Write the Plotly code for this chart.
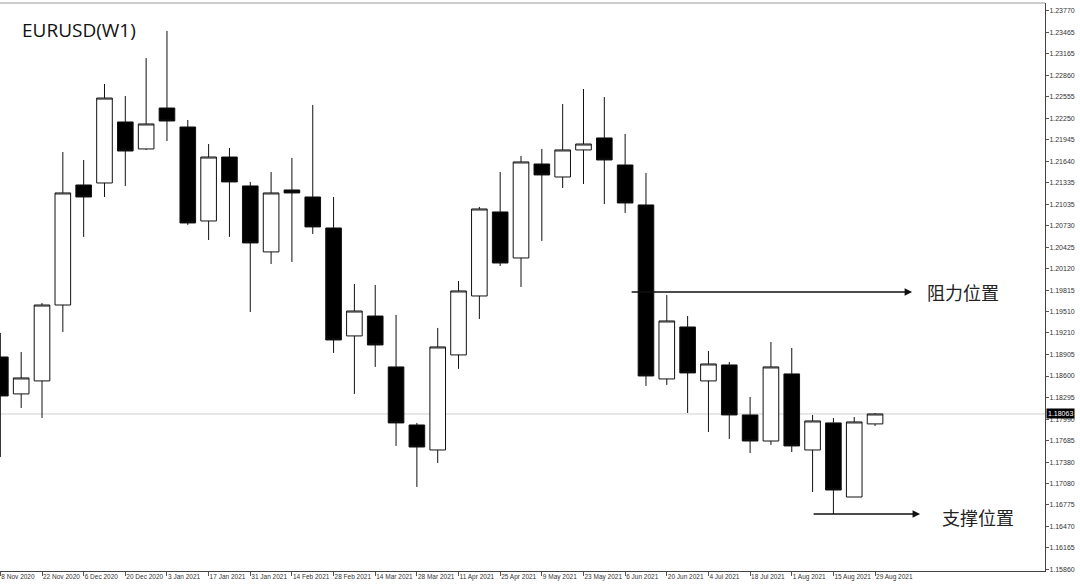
import plotly.graph_objects as go

# ---- data (EURUSD weekly) ----
tick_labels = ["8 Nov 2020", "22 Nov 2020", "6 Dec 2020", "20 Dec 2020", "3 Jan 2021",
               "17 Jan 2021", "31 Jan 2021", "14 Feb 2021", "28 Feb 2021", "14 Mar 2021",
               "28 Mar 2021", "11 Apr 2021", "25 Apr 2021", "9 May 2021", "23 May 2021",
               "6 Jun 2021", "20 Jun 2021", "4 Jul 2021", "18 Jul 2021", "1 Aug 2021",
               "15 Aug 2021", "29 Aug 2021"]

opens = [1.18870, 1.18347, 1.18531, 1.19606, 1.21306, 1.21334, 1.22198, 1.21816, 1.22396, 1.22127,
         1.20796, 1.21702, 1.21292, 1.20358, 1.21235, 1.21136, 1.20697, 1.19168, 1.19450, 1.18729,
         1.17907, 1.17553, 1.18899, 1.19734, 1.20924, 1.20272, 1.21603, 1.21419, 1.21802, 1.21972,
         1.21589, 1.21023, 1.18559, 1.19295, 1.18531, 1.18757, 1.18049, 1.17680, 1.18630, 1.17553,
         1.17936, 1.16887, 1.17922]
highs = [1.19210, 1.18941, 1.19635, 1.21773, 1.21660, 1.22736, 1.22566, 1.23104, 1.23487, 1.22226,
         1.21886, 1.21830, 1.21349, 1.21490, 1.21688, 1.22439, 1.21136, 1.19904, 1.19890, 1.19465,
         1.17936, 1.19281, 1.19946, 1.20995, 1.21490, 1.21717, 1.21816, 1.22453, 1.22665, 1.22552,
         1.22028, 1.21476, 1.19748, 1.19450, 1.18955, 1.18799, 1.18304, 1.19082, 1.18998, 1.18049,
         1.18006, 1.18020, 1.18077]
lows = [1.17454, 1.18148, 1.18006, 1.19224, 1.20570, 1.21136, 1.21292, 1.21802, 1.21929, 1.20740,
        1.20527, 1.20570, 1.19507, 1.20187, 1.20215, 1.20612, 1.18927, 1.18347, 1.18729, 1.17610,
        1.17029, 1.17369, 1.18701, 1.19408, 1.20159, 1.19861, 1.20513, 1.21263, 1.21320, 1.21037,
        1.20910, 1.18460, 1.18474, 1.18077, 1.17808, 1.17709, 1.17510, 1.17624, 1.17524, 1.16958,
        1.16646, 1.16887, 1.17893]
closes = [1.18318, 1.18573, 1.19606, 1.21193, 1.21136, 1.22537, 1.21787, 1.22170, 1.22212, 1.20768,
          1.21702, 1.21349, 1.20485, 1.21193, 1.21193, 1.20712, 1.19111, 1.19521, 1.19040, 1.17936,
          1.17595, 1.19012, 1.19805, 1.20966, 1.20201, 1.21632, 1.21448, 1.21802, 1.21886, 1.21660,
          1.21051, 1.18601, 1.19380, 1.18644, 1.18771, 1.18049, 1.17680, 1.18729, 1.17610, 1.17964,
          1.16986, 1.17950, 1.18063]

y_ticks = [1.23770, 1.23465, 1.23165, 1.22860, 1.22555, 1.22250, 1.21945, 1.21640, 1.21335,
           1.21035, 1.20730, 1.20425, 1.20120, 1.19815, 1.19510, 1.19210, 1.18905, 1.18600,
           1.18295, 1.17990, 1.17685, 1.17380, 1.17080, 1.16775, 1.16470, 1.16165, 1.15860]

resistance_level = 1.19790
support_level = 1.16647

title_text = "EURUSD(W1)"
resistance_text = "阻力位置"
support_text = "支撑位置"

# ---- figure ----
x = list(range(len(opens)))

fig = go.Figure()
fig.add_trace(go.Candlestick(
    x=x, open=opens, high=highs, low=lows, close=closes,
    increasing=dict(fillcolor="white", line=dict(color="#111111", width=1)),
    decreasing=dict(fillcolor="black", line=dict(color="#111111", width=1)),
    whiskerwidth=0, hoverinfo="skip", showlegend=False,
))

last = closes[-1]

fig.update_layout(
    width=1080, height=585,
    margin=dict(l=0, r=35, t=3, b=14, autoexpand=False),
    paper_bgcolor="white", plot_bgcolor="white",
    boxgap=0.25, boxgroupgap=0,
    showlegend=False,
    xaxis=dict(
        range=[-0.017, 50.16],
        tickmode="array",
        tickvals=x[::2],
        ticktext=tick_labels,
        tickangle=0,
        ticklabelposition="outside right",
        ticks="outside", ticklen=4, tickcolor="#555555",
        ticklabelstandoff=-1,
        showline=True, linecolor="#444444", linewidth=1,
        showgrid=False, zeroline=False, automargin=False,
        rangeslider=dict(visible=False),
        tickfont=dict(family="Liberation Sans", size=6.5, color="#333333"),
        fixedrange=True,
    ),
    yaxis=dict(
        side="right",
        range=[1.15839, 1.23883],
        tickmode="array",
        tickvals=y_ticks,
        ticktext=[f"{v:.5f}" for v in y_ticks],
        ticks="outside", ticklen=3, tickcolor="#555555",
        ticklabelstandoff=-1,
        showline=True, linecolor="#444444", linewidth=1,
        showgrid=False, zeroline=False, automargin=False,
        tickfont=dict(family="Liberation Sans", size=7, color="#333333"),
        fixedrange=True,
    ),
    shapes=[
        dict(type="line", xref="paper", yref="y", x0=0, x1=1, y0=last, y1=last,
             line=dict(color="#cfcfcf", width=1), layer="below"),
        dict(type="line", xref="paper", yref="paper", x0=0, x1=1, y0=1, y1=1,
             line=dict(color="#999999", width=1)),
    ],
)

# current price label
fig.add_annotation(
    xref="paper", yref="y", x=1, y=last, xanchor="left", yanchor="middle",
    text=f"{last:.5f}", showarrow=False, xshift=1,
    bgcolor="black", borderpad=1,
    font=dict(family="Liberation Sans", size=7, color="white"),
)

# title
fig.add_annotation(
    xref="paper", yref="paper", x=20 / 1045, y=(571 - 30) / 568,
    xanchor="left", yanchor="middle", text=title_text, showarrow=False,
    font=dict(family="Open Sans", size=19, color="#111111"),
)

# resistance arrow + text
fig.add_annotation(
    xref="x", yref="y", x=43.78, y=resistance_level,
    axref="x", ayref="y", ax=30.24, ay=resistance_level,
    text="", showarrow=True, arrowhead=2, arrowsize=1, arrowwidth=1.5, arrowcolor="#111111",
)
fig.add_annotation(
    xref="x", yref="y", x=44.40, y=resistance_level, xanchor="left", yanchor="middle",
    text=resistance_text, showarrow=False,
    font=dict(family="Noto Sans CJK SC", size=18, color="#222222"),
)

# support arrow + text
fig.add_annotation(
    xref="x", yref="y", x=44.16, y=support_level,
    axref="x", ayref="y", ax=38.98, ay=support_level,
    text="", showarrow=True, arrowhead=2, arrowsize=1, arrowwidth=1.5, arrowcolor="#111111",
)
fig.add_annotation(
    xref="x", yref="y", x=45.12, y=1.16609, xanchor="left", yanchor="middle",
    text=support_text, showarrow=False,
    font=dict(family="Noto Sans CJK SC", size=18, color="#222222"),
)

fig.write_html(
    "out.html",
    config={"displayModeBar": False, "staticPlot": True},
    post_script="document.body.style.margin='0';document.body.style.overflow='hidden';",
)
